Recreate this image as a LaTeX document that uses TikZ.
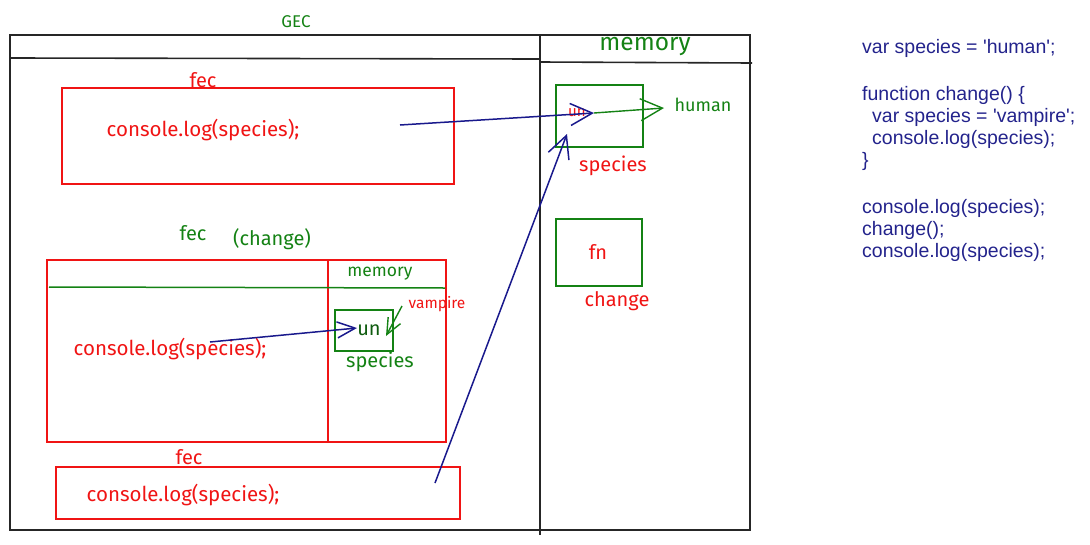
\documentclass[tikz,border=0pt]{standalone}
\usepackage{fontspec}
\setmainfont{Fira Sans}
\newfontfamily\codefont{Liberation Sans}
\usetikzlibrary{arrows.meta}
\definecolor{hred}{RGB}{240,20,20}
\definecolor{hgreen}{RGB}{20,130,20}
\definecolor{hblue}{RGB}{25,25,140}
\definecolor{codeblue}{RGB}{35,35,140}
\tikzset{
  frame/.style={draw=black!85,line width=1.6pt},
  redbox/.style={draw=hred,line width=1.5pt},
  greenbox/.style={draw=hgreen,line width=1.5pt},
  redtxt/.style={text=hred,inner sep=0pt,font=\fontsize{20}{22}\selectfont},
  greentxt/.style={text=hgreen,inner sep=0pt,font=\fontsize{20}{22}\selectfont},
  bluearrow/.style={draw=hblue,line width=1.5pt,-{Straight Barb[length=22pt,width=22pt,line width=1.5pt]}},
  greenarrow/.style={draw=hgreen,line width=1.4pt,-{Straight Barb[length=22pt,width=22pt,line width=1.4pt]}},
  codeline/.style={text=codeblue,anchor=base west,inner sep=0pt,font=\codefont\fontsize{19.5}{22}\selectfont}
}
\begin{document}
\begin{tikzpicture}[x=1pt,y=-1pt]
\useasboundingbox (0,0) rectangle (1090,544);
% outer GEC frame
\node[greentxt,font=\fontsize{17}{19}\selectfont] (gec) at (296,22) {GEC};
\draw[frame] (10,35) rectangle (750,530);
\draw[frame] (540,35) -- (540,535);
\draw[frame] (10,58) -- (540,59);
\draw[frame] (540,62) -- (752,63);
\node[greentxt,font=\fontsize{24.5}{27}\selectfont] (mem) at (645,47) {memory};
% fec 1
\node[redtxt] (fec1) at (203,80) {fec};
\node[redbox,minimum width=392pt,minimum height=96pt,anchor=north west] (box1) at (61,87) {};
\node[redtxt,font=\fontsize{20.5}{23}\selectfont] (log1) at (203,130) {console.log(species);};
% memory of GEC
\node[greenbox,minimum width=87pt,minimum height=62pt,anchor=north west] (memsp) at (555,84) {};
\node[redtxt,font=\fontsize{15}{17}\selectfont] (un1) at (577,113) {un};
\node[redtxt] (sp1) at (613,166) {species};
\node[greentxt,font=\fontsize{18}{20}\selectfont] (human) at (703,105) {human};
\node[greenbox,minimum width=86pt,minimum height=67pt,anchor=north west] (fnbox) at (555,218) {};
\node[redtxt] (fn) at (598,252) {fn};
\node[redtxt] (chg) at (617,301) {change};
% fec change
\node[greentxt] (fec2) at (193,233) {fec};
\node[greentxt] (chlab) at (272,239) {(change)};
\node[redbox,minimum width=399pt,minimum height=182pt,anchor=north west] (box2) at (46,259) {};
\draw[redbox] (328,259) -- (328,441);
\draw[draw=hgreen,line width=1.5pt] (49,287) -- (445,288);
\node[greentxt,font=\fontsize{17.5}{19}\selectfont] (mem2) at (380,274) {memory};
\node[greenbox,minimum width=58pt,minimum height=41pt,anchor=north west] (memsp2) at (334,309) {};
\node[greentxt,text=hgreen!70!black] (un2) at (369,330) {un};
\node[redtxt,font=\fontsize{15.5}{17}\selectfont] (vamp) at (437,304) {vampire};
\node[greentxt] (sp2) at (380,362) {species};
\node[redtxt,font=\fontsize{20.5}{23}\selectfont] (log2) at (170,349) {console.log(species);};
% fec 3
\node[redtxt] (fec3) at (189,457) {fec};
\node[redbox,minimum width=404pt,minimum height=52pt,anchor=north west] (box3) at (55,466) {};
\node[redtxt,font=\fontsize{20.5}{23}\selectfont] (log3) at (183,495) {console.log(species);};
% connectors
\coordinate (a1s) at (400,125);
\coordinate (a1e) at (594,113);
\coordinate (a2s) at (594,113);
\coordinate (a2e) at (664,108);
\coordinate (a3s) at (435,483);
\coordinate (a3e) at (567,134);
\coordinate (a4s) at (210,342);
\coordinate (a4e) at (357,328);
\coordinate (a5s) at (402,306);
\coordinate (a5e) at (386,336);
\draw[greenarrow] (a2s) -- (a2e);
\draw[bluearrow] (a1s) -- (a1e);
\draw[bluearrow] (a3s) -- (a3e);
\draw[bluearrow,-{Straight Barb[length=18pt,width=16pt,line width=1.5pt]}] (a4s) -- (a4e);
\draw[greenarrow,-{Straight Barb[length=16pt,width=14pt,line width=1.4pt]}] (a5s) -- (a5e);
% code
\node[codeline] (c1) at (862,53) {var species = 'human';};
\node[codeline] (c2) at (862,100) {function change() \{};
\node[codeline] (c3) at (872,122) {var species = 'vampire';};
\node[codeline] (c4) at (872,144) {console.log(species);};
\node[codeline] (c5) at (862,166) {\}};
\node[codeline] (c6) at (862,213) {console.log(species);};
\node[codeline] (c7) at (862,235) {change();};
\node[codeline] (c8) at (862,257) {console.log(species);};
\end{tikzpicture}
\end{document}
